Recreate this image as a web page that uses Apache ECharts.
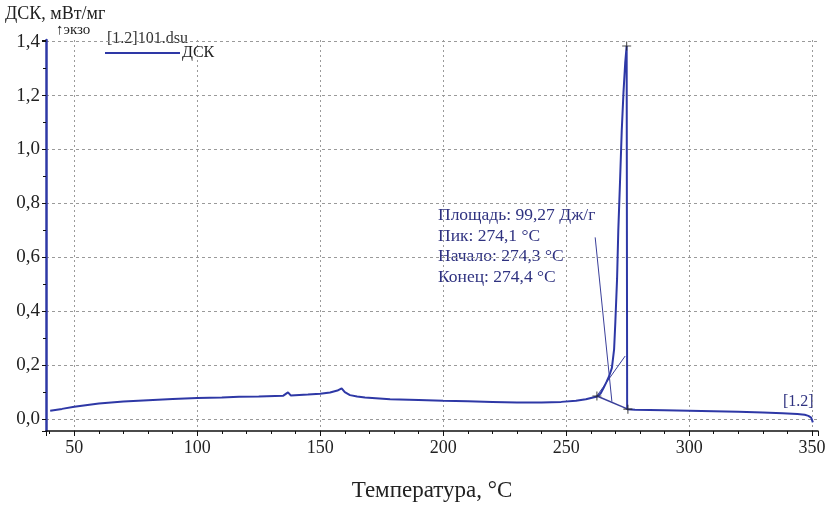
<!DOCTYPE html>
<html>
<head>
<meta charset="utf-8">
<script src="https://cdn.jsdelivr.net/npm/echarts@6/dist/echarts.min.js"></script>
<style>
html,body{margin:0;padding:0;background:#fff;}
#c{width:829px;height:507px;}
</style>
</head>
<body>
<div id="c"></div>
<script>
// ---- data ----
const temps = [40.2, 45, 50, 60, 70, 80, 90, 100, 110, 117, 125, 135, 136.9, 138, 145, 150, 154, 157, 158.7, 160, 162.1, 165, 168.2, 178.4, 190, 200, 210, 220, 230, 240, 248, 254, 258, 262.6, 264, 265.2, 266.5, 267.5, 268.6, 269.5, 270.0, 270.7, 271.2, 271.9, 272.6, 273.3, 274.0, 274.6, 274.8, 278, 290, 300, 310, 320, 330, 338, 344, 347, 348.5, 349.2, 349.6, 350.0, 350.3];
const dsc   = [0.031, 0.038, 0.046, 0.058, 0.065, 0.070, 0.075, 0.078, 0.080, 0.083, 0.084, 0.087, 0.099, 0.088, 0.091, 0.094, 0.099, 0.106, 0.114, 0.100, 0.089, 0.084, 0.080, 0.074, 0.071, 0.068, 0.066, 0.064, 0.062, 0.062, 0.064, 0.068, 0.074, 0.084, 0.095, 0.115, 0.140, 0.160, 0.190, 0.260, 0.360, 0.520, 0.700, 0.880, 1.070, 1.210, 1.320, 1.384, 0.037, 0.035, 0.033, 0.031, 0.029, 0.027, 0.025, 0.022, 0.019, 0.016, 0.012, 0.018, 0.006, 0.012, -0.012];

// evaluation construction lines: [temperature, value]
const tangentLine  = [[261.8, 0.674], [268.6, 0.065]];
const onsetLine    = [[262.5, 0.086], [274.0, 0.234]];
const baseLine     = [[262.5, 0.086], [275.1, 0.037]];
const markPoints   = [[262.5, 0.086], [274.6, 1.384], [275.1, 0.037]];

const xTicks = [50, 100, 150, 200, 250, 300, 350];
const yTicks = [0.0, 0.2, 0.4, 0.6, 0.8, 1.0, 1.2, 1.4];

const seriesName = 'ДСК';
const fileLabel = '[1.2]101.dsu';
const yTitle = 'ДСК, мВт/мг';
const exoLabel = '↑экзо';
const xTitle = 'Температура, °С';
const resultLines = ['Площадь: 99,27 Дж/г', 'Пик: 274,1 °С', 'Начало: 274,3 °С', 'Конец: 274,4 °С'];
const curveTag = '[1.2]';

// ---- chart ----
const FONT = '"Liberation Serif", "DejaVu Serif", serif';
const BLUE = '#2e38a6';
const NAVY = '#2f3280';
const chart = echarts.init(document.getElementById('c'), null, {renderer: 'canvas'});

const curve = temps.map((t, i) => [t, dsc[i]]);

const option = {
  animation: false,
  backgroundColor: '#ffffff',
  grid: {left: 46, right: 11, top: 40, bottom: 75, containLabel: false},
  legend: {
    data: [seriesName],
    left: 105, top: 45,
    padding: 0,
    icon: 'rect',
    itemWidth: 75, itemHeight: 2,
    itemGap: 2,
    textStyle: {fontFamily: FONT, fontSize: 16, color: '#222', padding: [0,0,0,-3]}
  },
  xAxis: {
    type: 'value',
    min: 38.5, max: 352.4,
    minInterval: 50, maxInterval: 50,
    axisLine: {show: true, onZero: false, lineStyle: {color: '#111', width: 1.5}},
    axisTick: {show: true, length: 5, lineStyle: {color: '#111'}},
    minorTick: {show: true, splitNumber: 5, length: 3, lineStyle: {color: '#111'}},
    axisLabel: {
      fontFamily: FONT, fontSize: 18, color: '#222', margin: 8,
      showMinLabel: false, showMaxLabel: false,
      formatter: v => xTicks.indexOf(Math.round(v)) >= 0 ? String(Math.round(v)) : ''
    },
    splitLine: {show: true, showMinLine: false, showMaxLine: false,
      lineStyle: {color: '#9a9a9a', type: [2, 3], width: 1}},
    name: xTitle,
    nameLocation: 'middle',
    nameGap: 48,
    nameTextStyle: {fontFamily: FONT, fontSize: 23, color: '#222'}
  },
  yAxis: {
    type: 'value',
    min: -0.044, max: 1.406,
    minInterval: 0.2, maxInterval: 0.2,
    axisLine: {show: true, onZero: false, lineStyle: {color: BLUE, width: 2.5}},
    axisTick: {show: true, length: 4, lineStyle: {color: '#111'}},
    minorTick: {show: true, splitNumber: 2, length: 3, lineStyle: {color: '#111'}},
    axisLabel: {
      fontFamily: FONT, fontSize: 19, color: '#222', margin: 6,
      showMinLabel: false, showMaxLabel: false,
      formatter: v => {
        const r = Math.round(v * 10) / 10;
        return yTicks.some(t => Math.abs(t - r) < 1e-6) ? r.toFixed(1).replace('.', ',') : '';
      }
    },
    splitLine: {show: true, showMinLine: false, showMaxLine: false,
      lineStyle: {color: '#9a9a9a', type: [3, 3], width: 1}}
  },
  series: [
    {
      name: seriesName,
      type: 'line',
      data: curve,
      showSymbol: false,
      symbol: 'none',
      lineStyle: {color: BLUE, width: 2},
      itemStyle: {color: BLUE},
      z: 5
    },
    {
      name: 'tangent', type: 'line', data: tangentLine, symbol: 'none',
      lineStyle: {color: '#3a3f9a', width: 1}, z: 4
    },
    {
      name: 'onset', type: 'line', data: onsetLine, symbol: 'none',
      lineStyle: {color: '#3a3f9a', width: 1}, z: 4
    },
    {
      name: 'base', type: 'line', data: baseLine, symbol: 'none',
      lineStyle: {color: '#3a3f9a', width: 1.5}, z: 4
    },
    {
      name: 'marks', type: 'scatter', data: markPoints,
      symbol: 'path://M4.4,0H5.6V4.4H10V5.6H5.6V10H4.4V5.6H0V4.4H4.4Z',
      symbolSize: 9,
      itemStyle: {color: '#222'}, z: 6
    }
  ],
  graphic: [
    {type: 'text', left: 5, top: 5, style: {text: yTitle, font: '18px ' + FONT, fill: '#222'}},
    {type: 'text', left: 56, top: 23, style: {text: exoLabel, font: '15px ' + FONT, fill: '#222'}},
    {type: 'text', left: 107, top: 31, style: {text: fileLabel, font: '16px ' + FONT, fill: '#333'}},
    {type: 'text', left: 783, top: 394, style: {text: curveTag, font: '16px ' + FONT, fill: NAVY}},
    {type: 'text', left: 438, top: 205,
      style: {text: resultLines.join('\n'), font: '17.5px ' + FONT, fill: NAVY, lineHeight: 20.7}}
  ]
};
chart.setOption(option);
</script>
</body>
</html>
